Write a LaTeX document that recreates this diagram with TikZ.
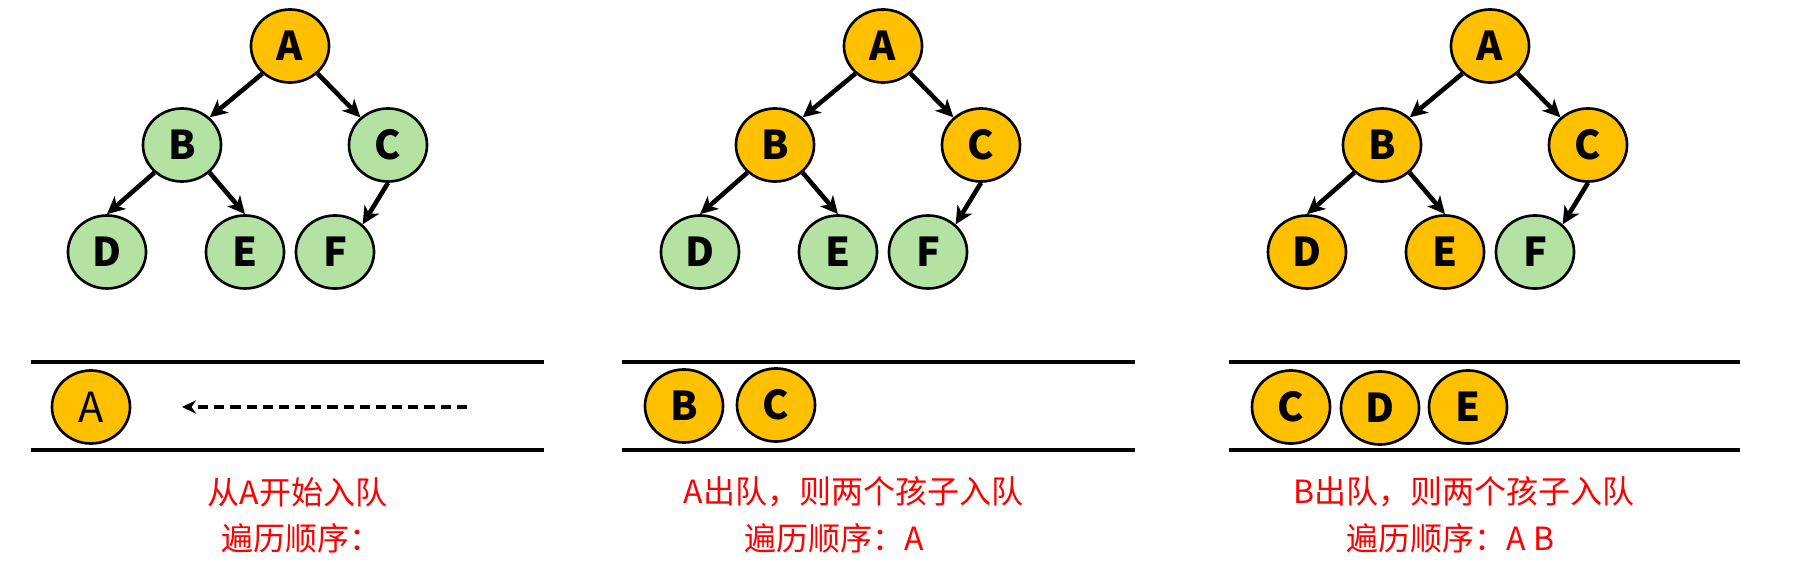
\documentclass[tikz,border=0pt]{standalone}
\usepackage{fontspec}
\setmainfont{Noto Sans CJK SC}
\usetikzlibrary{shapes.geometric,arrows.meta}
\definecolor{gold}{HTML}{FFC000}
\definecolor{leaf}{HTML}{B3E2A3}
\definecolor{notered}{HTML}{FF0000}
\tikzset{
 vert/.style={ellipse,draw=black,line width=0.75pt,minimum width=0.78cm,minimum height=0.73cm,inner sep=0pt,font=\fontsize{11.3}{11.3}\selectfont\bfseries},
 done/.style={vert,fill=gold},
 todo/.style={vert,fill=leaf},
 link/.style={line width=1.3pt,-{Stealth[length=5pt,width=4.8pt,inset=1.4pt]}},
 rail/.style={line width=1.05pt},
 hint/.style={line width=1pt,dash pattern=on 2.9pt off 1.7pt,-{Stealth[length=4pt,width=3.8pt]}},
 note/.style={text=notered,font=\fontsize{9.1}{9.1}\selectfont,anchor=west,inner sep=0pt}
}
\begin{document}
\begin{tikzpicture}[x=0.01cm,y=-0.01cm]
\useasboundingbox (0,0) rectangle (1803,564);
% ---------- panel 1 tree
\node[done] (a1) at (290,46) {A};
\node[todo] (b1) at (182,145) {B};
\node[todo] (c1) at (388,145) {C};
\node[todo] (d1) at (107,252) {D};
\node[todo] (e1) at (245,252) {E};
\node[todo] (f1) at (335,252) {F};
\draw[link] (a1.225) -- (b1.45);
\draw[link] (a1.-45) -- (c1.135);
\draw[link] (b1.225) -- (d1.north);
\draw[link] (b1.-45) -- (e1.north);
\draw[link] (c1.south) -- (f1.45);
% ---------- panel 2 tree
\node[done] (a2) at (883,46) {A};
\node[done] (b2) at (775,145) {B};
\node[done] (c2) at (981,145) {C};
\node[todo] (d2) at (700,252) {D};
\node[todo] (e2) at (838,252) {E};
\node[todo] (f2) at (928,252) {F};
\draw[link] (a2.225) -- (b2.45);
\draw[link] (a2.-45) -- (c2.135);
\draw[link] (b2.225) -- (d2.north);
\draw[link] (b2.-45) -- (e2.north);
\draw[link] (c2.south) -- (f2.45);
% ---------- panel 3 tree
\node[done] (a3) at (1490,46) {A};
\node[done] (b3) at (1382,145) {B};
\node[done] (c3) at (1588,145) {C};
\node[done] (d3) at (1307,252) {D};
\node[done] (e3) at (1445,252) {E};
\node[todo] (f3) at (1535,252) {F};
\draw[link] (a3.225) -- (b3.45);
\draw[link] (a3.-45) -- (c3.135);
\draw[link] (b3.225) -- (d3.north);
\draw[link] (b3.-45) -- (e3.north);
\draw[link] (c3.south) -- (f3.45);
% ---------- queues
\draw[rail] (31,362) -- (544,362);
\draw[rail] (31,450) -- (544,450);
\draw[rail] (622,362) -- (1135,362);
\draw[rail] (622,450) -- (1135,450);
\draw[rail] (1229,362) -- (1740,362);
\draw[rail] (1229,450) -- (1740,450);
\node[done,font=\fontsize{11.8}{11.8}\selectfont] (qa1) at (91,407) {A};
\coordinate (hs) at (467,407);
\coordinate (he) at (182,407);
\draw[hint] (hs) -- (he);
\node[done] (qb2) at (684,406) {B};
\node[done] (qc2) at (776,405) {C};
\node[done] (qc3) at (1291,407) {C};
\node[done] (qd3) at (1380,408) {D};
\node[done] (qe3) at (1468,407) {E};
% ---------- notes
\node[note] (t11) at (207,492) {从A开始入队};
\node[note] (t12) at (221,538) {遍历顺序：};
\node[note] (t21) at (683,492) {A出队，则两个孩子入队};
\node[note] (t22) at (744,538) {遍历顺序：A};
\node[note] (t31) at (1293,492) {B出队，则两个孩子入队};
\node[note] (t32) at (1346,538) {遍历顺序：A B};
\end{tikzpicture}
\end{document}
